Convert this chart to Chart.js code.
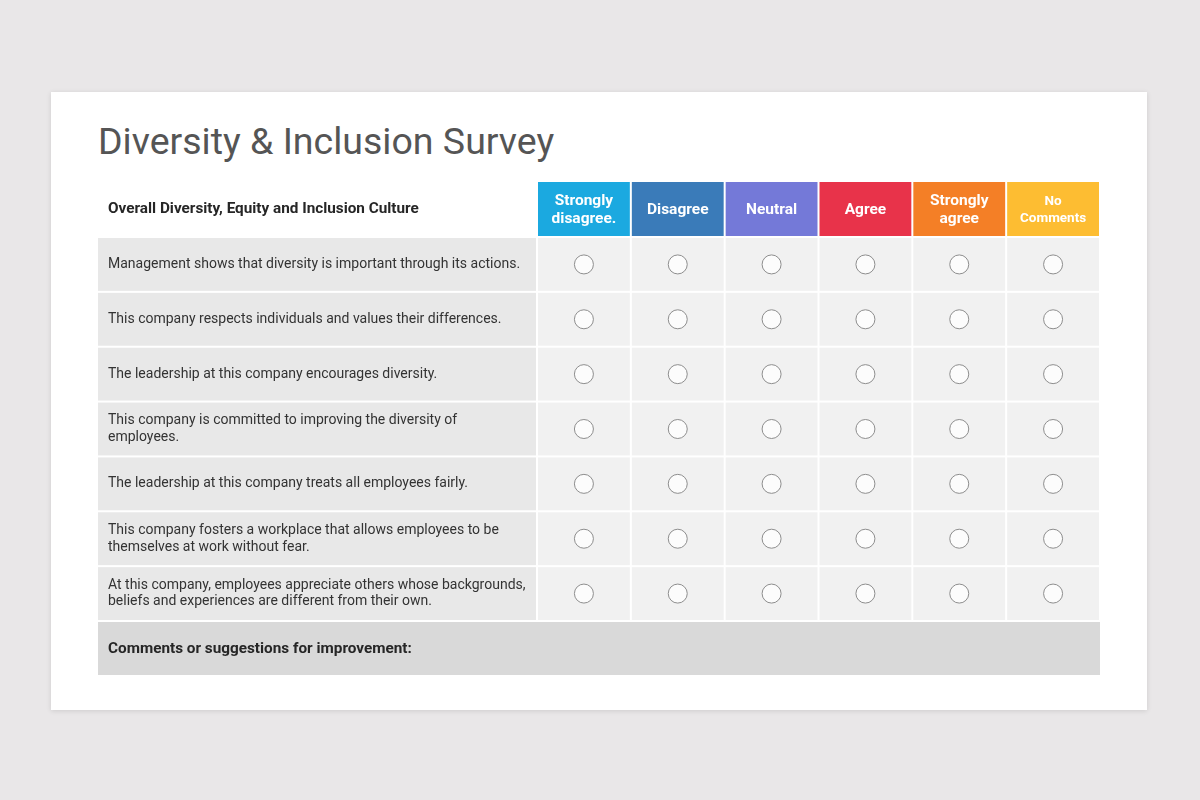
<!DOCTYPE html>
<html>
<head>
<meta charset="utf-8">
<title>Diversity & Inclusion Survey</title>
<script src="https://cdn.jsdelivr.net/npm/chart.js@4"></script>
<style>
    body { margin: 0; width: 1200px; height: 800px; background: #e9e7e8; font-family: Roboto, sans-serif; overflow: hidden; }
    .card { position: absolute; left: 51px; top: 92px; width: 1096px; height: 618px; background: #fff; box-shadow: 0 1px 5px rgba(0, 0, 0, 0.12); }
    .card h1 { position: absolute; left: 47px; top: 27px; margin: 0; font-size: 37.5px; line-height: 44px; font-weight: 400; color: #555; white-space: nowrap; }
    .table-wrap { position: absolute; left: 47px; top: 90px; width: 1002px; height: 493px; }
</style>
</head>
<body>
<div class="card">
    <h1>Diversity &amp; Inclusion Survey</h1>
    <div class="table-wrap"><canvas id="surveyChart"></canvas></div>
</div>
<script>
// survey content ("\n" marks where a label wraps)
const sectionTitle = 'Overall Diversity, Equity and Inclusion Culture';
const responses = [
    'Strongly\ndisagree.',
    'Disagree',
    'Neutral',
    'Agree',
    'Strongly\nagree',
    'No\nComments'
];
const statements = [
    'Management shows that diversity is important through its actions.',
    'This company respects individuals and values their differences.',
    'The leadership at this company encourages diversity.',
    'This company is committed to improving the diversity of\nemployees.',
    'The leadership at this company treats all employees fairly.',
    'This company fosters a workplace that allows employees to be\nthemselves at work without fear.',
    'At this company, employees appreciate others whose backgrounds,\nbeliefs and experiences are different from their own.'
];
const commentsLabel = 'Comments or suggestions for improvement:';

const headerColors = ['#1ba9e0', '#3a7bb9', '#7479d8', '#e8334a', '#f47f26', '#fdbd32'];

// one empty answer circle per statement and response
const answerPoints = [];
statements.forEach((s) => {
    responses.forEach((r) => {
        answerPoints.push({ x: r, y: s });
    });
});

function splitLabel(value) {
    return this.getLabelForValue(value).split('\n');
}

const cellsPlugin = {
    id: 'surveyCells',
    beforeDraw(chart) {
        const { ctx, chartArea, width, height } = chart;
        const x = chart.scales.x;
        const y = chart.scales.y;
        const colW = chartArea.width / responses.length;
        const rowH = chartArea.height / statements.length;
        ctx.save();

        // header cells
        responses.forEach((r, i) => {
            const cx = x.getPixelForValue(i);
            ctx.fillStyle = headerColors[i];
            ctx.fillRect(cx - colW / 2 + 1, 0, colW - 2, chartArea.top - 1);
        });

        // statement rows
        statements.forEach((s, j) => {
            const cy = y.getPixelForValue(j);
            const top = cy - rowH / 2 + 1;
            ctx.fillStyle = '#e8e8e8';
            ctx.fillRect(0, top, chartArea.left - 1, rowH - 2);
            ctx.fillStyle = '#f1f1f1';
            responses.forEach((r, i) => {
                const cx = x.getPixelForValue(i);
                ctx.fillRect(cx - colW / 2 + 1, top, colW - 2, rowH - 2);
            });
        });

        // comments row
        ctx.fillStyle = '#d9d9d9';
        ctx.fillRect(0, chartArea.bottom + 1, width, height - chartArea.bottom - 1);

        ctx.fillStyle = '#262626';
        ctx.textAlign = 'left';
        ctx.textBaseline = 'middle';
        ctx.font = 'bold 15.3px Roboto';
        ctx.fillText(sectionTitle, 10, chartArea.top / 2);
        ctx.fillText(commentsLabel, 10, (chartArea.bottom + height) / 2 + 1);
        ctx.restore();
    }
};

Chart.defaults.font.family = 'Roboto';

new Chart(document.getElementById('surveyChart'), {
    type: 'scatter',
    data: {
        datasets: [{
            data: answerPoints,
            pointStyle: 'circle',
            pointRadius: 9.5,
            pointHoverRadius: 9.5,
            backgroundColor: '#fcfcfc',
            borderColor: '#8e8e8e',
            borderWidth: 1,
            hoverBorderWidth: 1
        }]
    },
    options: {
        responsive: true,
        maintainAspectRatio: false,
        animation: false,
        events: [],
        layout: {
            autoPadding: false,
            padding: { left: 10, top: 0, right: 0, bottom: 54 }
        },
        plugins: {
            legend: { display: false },
            tooltip: { enabled: false }
        },
        scales: {
            x: {
                type: 'category',
                labels: responses,
                position: 'top',
                offset: true,
                grid: { display: false, drawTicks: false },
                border: { display: false },
                afterFit(scale) {
                    scale.height = 55;
                    scale.paddingLeft = 0;
                    scale.paddingRight = 0;
                },
                ticks: {
                    autoSkip: false,
                    maxRotation: 0,
                    minRotation: 0,
                    crossAlign: 'center',
                    padding: 18,
                    color: '#fff',
                    callback: splitLabel,
                    font: (c) => ({
                        family: 'Roboto',
                        weight: 'bold',
                        size: c.index === 5 ? 13.5 : 15.5,
                        lineHeight: c.index === 5 ? 1.27 : 1.15
                    })
                }
            },
            y: {
                type: 'category',
                labels: statements,
                offset: true,
                grid: { display: false, drawTicks: false },
                border: { display: false },
                afterFit(scale) {
                    scale.width = 429;
                    scale.paddingTop = 0;
                    scale.paddingBottom = 0;
                },
                ticks: {
                    autoSkip: false,
                    crossAlign: 'far',
                    color: '#333',
                    callback: splitLabel,
                    font: { family: 'Roboto', size: 14, lineHeight: 1.2 }
                }
            }
        }
    },
    plugins: [cellsPlugin]
});
</script>
</body>
</html>
